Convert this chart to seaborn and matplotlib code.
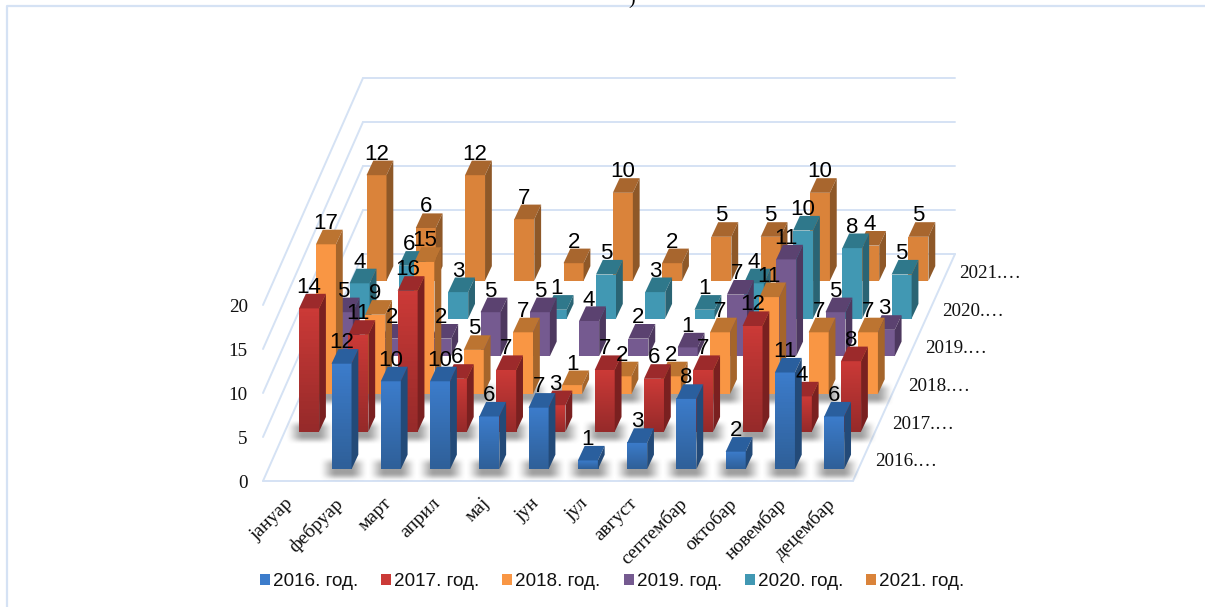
import numpy as np
import matplotlib
matplotlib.use("Agg")
import matplotlib.pyplot as plt
from matplotlib.patches import Patch
from matplotlib.transforms import Affine2D, ScaledTranslation
import seaborn as sns

months = ["јануар", "фебруар", "март", "април", "мај", "јун", "јул", "август",
          "септембар", "октобар", "новембар", "децембар"]
years = ["2016. год.", "2017. год.", "2018. год.", "2019. год.", "2020. год.", "2021. год."]
depth_labels = ["2016.…", "2017.…", "2018.…", "2019.…", "2020.…", "2021.…"]
v2016 = [0, 12, 10, 10, 6, 7, 1, 3, 8, 2, 11, 6]
v2017 = [14, 11, 16, 6, 7, 3, 7, 6, 7, 12, 4, 8]
v2018 = [17, 9, 15, 5, 7, 1, 2, 2, 7, 11, 7, 7]
v2019 = [5, 2, 2, 5, 5, 4, 2, 1, 7, 11, 5, 3]
v2020 = [4, 6, 3, 0, 1, 5, 3, 1, 4, 10, 8, 5]
v2021 = [12, 6, 12, 7, 2, 10, 2, 5, 5, 10, 4, 5]
series = [v2016, v2017, v2018, v2019, v2020, v2021]

front = ["#3C7CCB", "#CB3A37", "#F99644", "#755A90", "#4198B3", "#DA833A"]
front_low = ["#2F6099", "#962A2A", "#F99644", "#755A90", "#4198B3", "#DA833A"]
top = ["#2A5F9E", "#9C2A2B", "#BC7431", "#5B4270", "#2F788B", "#A8662E"]
side = ["#234A78", "#7A2020", "#A5652B", "#4D385F", "#2A6474", "#8E5828"]

sns.set_theme(style="white")
plt.rcParams["font.family"] = ["Liberation Sans", "DejaVu Sans"]
W, H = 1205, 607
fig = plt.figure(figsize=(W / 100, H / 100), dpi=100)

# axes rectangle = front plane of the chart, in pixels
px_left, px_right, px_floor, px_top = 263, 853, 481, 305
ax = fig.add_axes([px_left / W, 1 - px_floor / H, (px_right - px_left) / W, (px_floor - px_top) / H])
UX = 49.27          # pixels per month
UY = (px_floor - px_top) / 20.0   # pixels per unit
x0 = 292.25
row_dx, row_dy = 16.85 / UX, 37.7 / UY
base_dx, base_dy = 0.0, 11.7 / UY
bar_w = 20 / UX
bar_dx, bar_dy = 6.8 / UX, 14.6 / UY
xlim = ((px_left - x0) / UX, (px_right - x0) / UX)


def shadow_image():
    n = 48
    t = np.linspace(0, 1, n)
    e = np.clip(np.minimum(t, 1 - t) / 0.36, 0, 1)
    e = e * e * (3 - 2 * e)
    a = np.outer(e, e) * 0.6
    img = np.zeros((n, n, 4))
    img[..., :3] = 0.38
    img[..., 3] = a
    return img


shadow = shadow_image()

for row in range(5, -1, -1):
    vals = series[row]
    tr = Affine2D().translate(base_dx + row * row_dx, base_dy + row * row_dy) + ax.transData
    z = 10 + (5 - row) * 10
    start = len(ax.patches)
    sns.barplot(x=months, y=vals, order=months, color=front[row], saturation=1,
                width=bar_w, errorbar=None, ax=ax, zorder=z + 1, linewidth=0)
    for patch, v in zip(ax.patches[start:], vals):
        patch.set_transform(tr)
        patch.set_clip_on(False)
        if v <= 0:
            patch.set_visible(False)
            continue
        a, b = patch.get_x(), patch.get_x() + patch.get_width()
        if row < 3:
            im = ax.imshow(shadow, extent=[a - 14 / UX, b + 17 / UX, -13 / UY, 13 / UY],
                           aspect="auto", zorder=z, interpolation="bilinear")
            im.set_transform(tr)
            im.set_clip_on(False)
        if front[row] != front_low[row]:
            c0, c1 = matplotlib.colors.to_rgb(front[row]), matplotlib.colors.to_rgb(front_low[row])
            grad = np.linspace(c0, c1, 32)[:, None, :]
            im = ax.imshow(grad, extent=[a, b, 0, v], aspect="auto", zorder=z + 1.5)
            im.set_transform(tr)
            im.set_clip_on(False)
        ax.fill([a, b, b + bar_dx, a + bar_dx], [v, v, v + bar_dy, v + bar_dy],
                color=top[row], lw=0, transform=tr, zorder=z + 2, clip_on=False)
        ax.fill([b, b + bar_dx, b + bar_dx, b], [0, bar_dy, v + bar_dy, v],
                color=side[row], lw=0, transform=tr, zorder=z + 2, clip_on=False)
        ax.text((a + b) / 2, v + 15.5 / UY, str(v), transform=tr, ha="center", va="baseline",
                fontsize=16, color="black", zorder=500, clip_on=False)

# walls and floor (no vertical edges in the reference)
grid = "#D5E2F4"
dx_all, dy_all = 100.0 / UX, (px_floor - 254) / UY
lw = 1.4
for g in [0, 5, 10, 15, 20]:
    ax.plot([xlim[0], xlim[0] + dx_all], [g, g + dy_all], color=grid, lw=lw, zorder=1, clip_on=False)
    ax.plot([xlim[0] + dx_all, xlim[1] + dx_all + 2 / UX], [g + dy_all, g + dy_all], color=grid, lw=lw, zorder=1, clip_on=False)
ax.plot([xlim[0], xlim[1]], [0, 0], color=grid, lw=lw, zorder=1, clip_on=False)
ax.plot([xlim[1], xlim[1] + dx_all + 2 / UX], [0, dy_all], color=grid, lw=lw, zorder=1, clip_on=False)

# depth axis labels
for k, lab in enumerate(depth_labels):
    ax.text((875 - x0) / UX + k * 16.8 / UX, (px_floor - 462) / UY + k * 37.7 / UY, lab,
            family="Liberation Serif", fontsize=13.8, color="#111111", ha="left", va="center", clip_on=False)

ax.set_xlim(*xlim)
ax.set_ylim(0, 20)
ax.set_xticks(range(12))
ax.set_xticklabels(months, rotation=45, ha="right", rotation_mode="anchor",
                   family="Liberation Serif", fontsize=14, color="#111111")
ax.set_yticks([0, 5, 10, 15, 20])
ax.set_yticklabels(["0", "5", "10", "15", "20"], family="Liberation Serif", fontsize=13.8, color="#111111")
ax.tick_params(axis="x", length=0, pad=10)
ax.tick_params(axis="y", length=0, pad=11)
ax.set_xlabel("")
ax.set_ylabel("")
shift = ScaledTranslation(-8 / 100, 0, fig.dpi_scale_trans)
for lab in ax.get_xticklabels():
    lab.set_transform(lab.get_transform() + shift)
sns.despine(ax=ax, left=True, bottom=True)
ax.patch.set_alpha(0)

handles = [Patch(facecolor=c, edgecolor="none") for c in front]
fig.legend(handles, years, ncol=6, loc="center", bbox_to_anchor=(612 / W, 1 - 582 / H), frameon=False,
           fontsize=13.6, handlelength=0.53, handleheight=0.53, handletextpad=0.16, columnspacing=1.22,
           labelcolor="#111111")

# chart-area frame
fig.add_artist(plt.Line2D([7 / W, 7 / W, 1], [0, 1 - 5.5 / H, 1 - 5.5 / H], color=grid, lw=1.6))
fig.text(632 / W, 1 - 4 / H, ")", family="Liberation Serif", fontsize=14, ha="center", va="baseline", color="black")

fig.savefig("out.png", dpi=100)
